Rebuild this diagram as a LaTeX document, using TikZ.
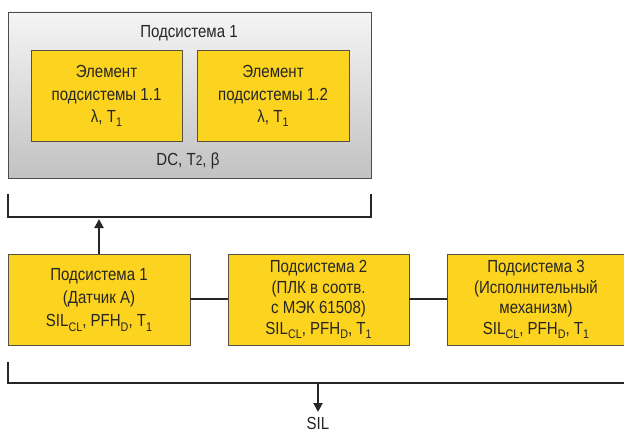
\documentclass[tikz,border=0pt]{standalone}
\usepackage{fontspec}
\setmainfont[FakeStretch=0.86]{Liberation Sans}
\usetikzlibrary{arrows.meta}
\definecolor{boxyellow}{HTML}{FCD31E}
\definecolor{boxedge}{HTML}{555045}
\newcommand{\lowsub}[1]{\raisebox{-0.45ex}{\fontsize{12.5}{12.5}\selectfont #1}}
\begin{document}
\begin{tikzpicture}[x=1pt,y=-1pt,
  ybox/.style={draw=boxedge, line width=0.9pt, fill=boxyellow, inner sep=0pt},
  txt/.style={font=\fontsize{17.5}{#1}\selectfont, align=center, text=black!85, inner sep=0pt},
  txt/.default=22.5,
  bracket/.style={line width=2.8pt, draw=black!85},
  link/.style={line width=2pt, draw=black!85},
  arr/.style={line width=2pt, draw=black!85, -{Triangle[length=9pt,width=9pt]}}]
\useasboundingbox (0,0) rectangle (624,433);
% outer subsystem box
\shade[top color=white!96!black, bottom color=black!24] (8,12) rectangle (371,178);
\draw[draw=black!70, line width=0.9pt] (8,12) rectangle (371,178);
\node[txt] (title) at (189,33) {Подсистема 1};
\draw[ybox] (31,50) rectangle (182,141);
\draw[ybox] (197,50) rectangle (349,141);
\node[txt] (e1) at (106.5,96) {Элемент\\подсистемы 1.1\\λ, T\lowsub{1}};
\node[txt] (e2) at (273,96) {Элемент\\подсистемы 1.2\\λ, T\lowsub{1}};
\node[txt] (dc) at (188,161) {DC, T{\fontsize{14}{14}\selectfont 2}, β};
% top bracket
\draw[bracket] (8,194) -- (8,217) -- (371,217) -- (371,194);
\coordinate (topbr) at (99,219);
% subsystems
\draw[ybox] (8,254) rectangle (190,345);
\draw[ybox] (228,254) rectangle (409,345);
\draw[ybox] (447,254) rectangle (632,345);
\node[txt=23] (s1) at (99,300) {Подсистема 1\\(Датчик А)\\SIL\lowsub{CL}, PFH\lowsub{D}, T\lowsub{1}};
\node[txt=20.7] (s2) at (318.5,299.5) {Подсистема 2\\(ПЛК в соотв.\\с МЭК 61508)\\SIL\lowsub{CL}, PFH\lowsub{D}, T\lowsub{1}};
\node[txt=20.7] (s3) at (536,299.5) {Подсистема 3\\(Исполнительный\\механизм)\\SIL\lowsub{CL}, PFH\lowsub{D}, T\lowsub{1}};
\coordinate (s1n) at (99,254);
\coordinate (s1e) at (190,299);
\coordinate (s2w) at (228,299);
\coordinate (s2e) at (409,299);
\coordinate (s3w) at (447,299);
\draw[link] (s1e) -- (s2w);
\draw[link] (s2e) -- (s3w);
\draw[arr] (s1n) -- (topbr);
% bottom bracket
\draw[bracket] (8,362) -- (8,383) -- (632,383);
\coordinate (botbr) at (318,383);
\node[font=\fontsize{17.5}{17.5}\selectfont, text=black!85, inner sep=0pt, anchor=base] (sil) at (318,429) {SIL};
\draw[arr] (botbr) -- (318,412);
\end{tikzpicture}
\end{document}
